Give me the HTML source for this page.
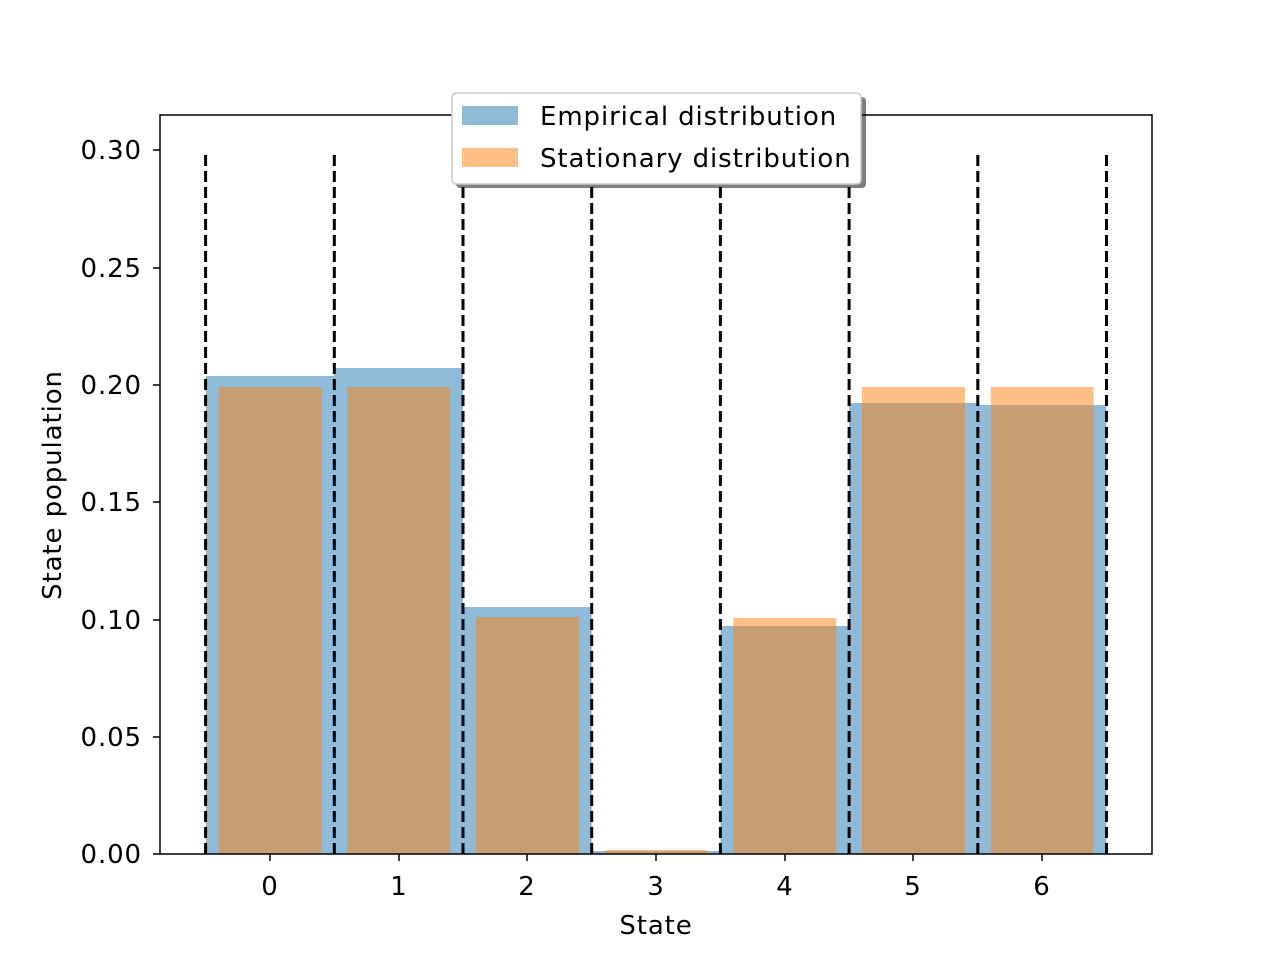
<!DOCTYPE html>
<html><head><meta charset="utf-8"><style>body{margin:0;background:#fff}</style></head><body>
<svg width="1280" height="960" xmlns="http://www.w3.org/2000/svg" font-family="DejaVu Sans, Liberation Sans, sans-serif" letter-spacing="0.9">
<rect width="1280" height="960" fill="#fff"/>
<g fill="#1f77b4" fill-opacity="0.5">
<rect x="205.6" y="376" width="128.7" height="478"/>
<rect x="334.3" y="368" width="128.7" height="486"/>
<rect x="463" y="607" width="128.7" height="247"/>
<rect x="591.7" y="851" width="128.7" height="3"/>
<rect x="720.4" y="626" width="128.7" height="228"/>
<rect x="849.1" y="403" width="128.7" height="451"/>
<rect x="977.8" y="405" width="128.7" height="449"/>
</g>
<g fill="#ff7f0e" fill-opacity="0.5">
<rect x="218.5" y="387" width="103" height="467"/>
<rect x="347.2" y="387" width="103" height="467"/>
<rect x="475.9" y="617" width="103" height="237"/>
<rect x="604.6" y="850" width="103" height="4"/>
<rect x="733.3" y="618" width="103" height="236"/>
<rect x="862" y="387" width="103" height="467"/>
<rect x="990.7" y="387" width="103" height="467"/>
</g>
<g stroke="#000" stroke-width="3" stroke-dasharray="11,5">
<line x1="205.6" y1="854" x2="205.6" y2="153"/>
<line x1="334.3" y1="854" x2="334.3" y2="153"/>
<line x1="463" y1="854" x2="463" y2="153"/>
<line x1="591.7" y1="854" x2="591.7" y2="153"/>
<line x1="720.4" y1="854" x2="720.4" y2="153"/>
<line x1="849.1" y1="854" x2="849.1" y2="153"/>
<line x1="977.8" y1="854" x2="977.8" y2="153"/>
<line x1="1106.5" y1="854" x2="1106.5" y2="153"/>
</g>
<rect x="160" y="115" width="992" height="739" fill="none" stroke="#000" stroke-width="1.5"/>
<g stroke="#000" stroke-width="1.5">
<line x1="160" y1="854" x2="153" y2="854"/><line x1="160" y1="737" x2="153" y2="737"/>
<line x1="160" y1="620" x2="153" y2="620"/><line x1="160" y1="502" x2="153" y2="502"/>
<line x1="160" y1="385" x2="153" y2="385"/><line x1="160" y1="268" x2="153" y2="268"/>
<line x1="160" y1="150" x2="153" y2="150"/>
<line x1="270" y1="854" x2="270" y2="861"/><line x1="399" y1="854" x2="399" y2="861"/>
<line x1="527" y1="854" x2="527" y2="861"/><line x1="656" y1="854" x2="656" y2="861"/>
<line x1="785" y1="854" x2="785" y2="861"/><line x1="913" y1="854" x2="913" y2="861"/>
<line x1="1042" y1="854" x2="1042" y2="861"/>
</g>
<g font-size="26" text-anchor="end" fill="#000">
<text x="142" y="863">0.00</text><text x="142" y="746">0.05</text>
<text x="142" y="629">0.10</text><text x="142" y="511">0.15</text>
<text x="142" y="394">0.20</text><text x="142" y="277">0.25</text>
<text x="142" y="159">0.30</text>
</g>
<g font-size="26" text-anchor="middle" fill="#000">
<text x="270" y="895">0</text><text x="399" y="895">1</text><text x="527" y="895">2</text>
<text x="656" y="895">3</text><text x="785" y="895">4</text><text x="913" y="895">5</text>
<text x="1042" y="895">6</text>
<text x="656" y="934">State</text>
<text transform="translate(61,485) rotate(-90)">State population</text>
</g>
<rect x="456" y="97" width="410" height="91" rx="4" fill="#000" fill-opacity="0.5"/>
<rect x="452" y="93" width="409" height="91" rx="4" fill="#fff" stroke="#ccc" stroke-width="1.5"/>
<rect x="462" y="106" width="56" height="19" fill="#1f77b4" fill-opacity="0.5"/>
<rect x="462" y="148" width="56" height="19" fill="#ff7f0e" fill-opacity="0.5"/>
<g font-size="26" fill="#000">
<text x="540" y="125">Empirical distribution</text>
<text x="540" y="167">Stationary distribution</text>
</g>
</svg>
</body></html>
